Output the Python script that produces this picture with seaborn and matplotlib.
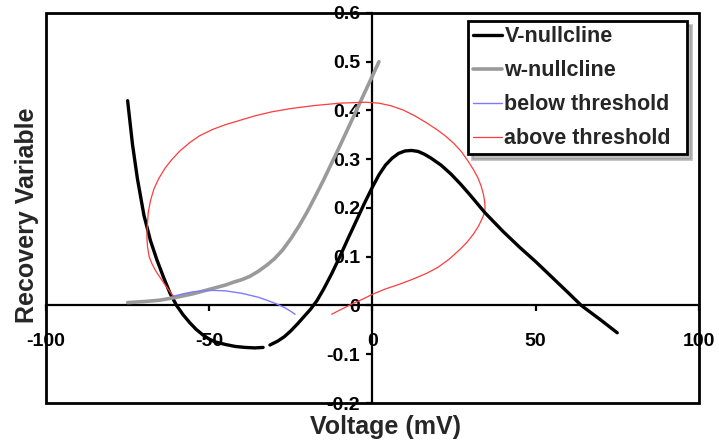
import matplotlib
matplotlib.use("Agg")
import matplotlib.pyplot as plt
import seaborn as sns
from matplotlib.patches import Rectangle

# V-nullcline (two branches, broken near -33 mV)
v_null_left_v = [-75, -73.5, -72, -70, -68, -66, -64, -62, -60, -58, -56, -54, -52, -50,
                 -48, -45, -42, -39, -36, -33.5]
v_null_left_w = [0.42, 0.33, 0.26, 0.185, 0.133, 0.093, 0.058, 0.025, 0.0, -0.019, -0.035,
                 -0.049, -0.06, -0.069, -0.075, -0.080, -0.084, -0.086, -0.087, -0.086]
v_null_right_v = [-31.4, -29, -27, -25, -23, -21, -19, -17, -15, -12.5, -10, -7.5, -5, -2.5,
                  0, 2, 4, 6, 8, 10, 12, 14, 16, 18, 21, 24, 27, 30, 34.5, 40, 45, 50, 55,
                  60, 64, 70, 75]
v_null_right_w = [-0.081, -0.073, -0.064, -0.052, -0.038, -0.023, -0.008, 0.01, 0.033,
                  0.065, 0.1, 0.137, 0.173, 0.209, 0.243, 0.268, 0.288, 0.302, 0.312, 0.317,
                  0.318, 0.316, 0.31, 0.302, 0.288, 0.27, 0.249, 0.226, 0.19, 0.152, 0.12,
                  0.09, 0.058, 0.026, 0.0, -0.03, -0.056]

# w-nullcline
w_null_v = [-75, -70, -65, -60, -55, -50, -45, -42.5, -40, -37.5, -35, -32.5, -30, -27.5,
            -25, -22.5, -20, -17.5, -15, -12.5, -10, -7.5, -5, -2.5, 0, 2]
w_null_w = [0.006, 0.008, 0.011, 0.017, 0.024, 0.033, 0.042, 0.048, 0.053, 0.06, 0.07,
            0.082, 0.096, 0.114, 0.137, 0.163, 0.192, 0.224, 0.257, 0.292, 0.327, 0.363,
            0.399, 0.435, 0.471, 0.5]

# sub-threshold trajectory
below_v = [-23.7, -25, -27, -29.3, -32, -35, -37.5, -40, -45, -49, -52, -55, -58, -61]
below_w = [-0.018, -0.012, -0.004, 0.003, 0.010, 0.017, 0.021, 0.025, 0.030, 0.031,
           0.030, 0.028, 0.024, 0.019]

# supra-threshold trajectory (action potential loop)
above_v = [-12.5, -9, -6, -3, 0, 4, 8, 12, 16.6, 20, 23.5, 26.8, 29, 31, 32.5, 33.6, 34.3,
           34.5, 34.4, 34.0, 33.3, 32.3, 31, 29.3, 27.2, 25, 22.5, 19.7, 16.5, 13, 9.4, 5.5,
           2, -2, -10, -18, -25, -31, -36, -40.5, -45, -49, -53, -56, -59, -61.5, -63.5,
           -65.5, -67, -68, -68.7, -69.0, -69.1, -68.9, -68.4, -67.5, -66.3, -65, -63.5,
           -62.2, -61]
above_w = [-0.018, -0.006, 0.004, 0.013, 0.023, 0.034, 0.043, 0.053, 0.066, 0.078, 0.095,
           0.115, 0.13, 0.147, 0.163, 0.178, 0.19, 0.2, 0.212, 0.228, 0.245, 0.262, 0.278,
           0.296, 0.316, 0.332, 0.347, 0.361, 0.375, 0.389, 0.401, 0.41, 0.415, 0.417,
           0.415, 0.41, 0.404, 0.397, 0.389, 0.38, 0.371, 0.361, 0.348, 0.334, 0.317,
           0.299, 0.282, 0.26, 0.238, 0.215, 0.19, 0.16, 0.14, 0.12, 0.10, 0.085, 0.07,
           0.057, 0.042, 0.03, 0.019]

x_ticks = [-100, -50, 0, 50, 100]
y_ticks = [-0.2, -0.1, 0, 0.1, 0.2, 0.3, 0.4, 0.5, 0.6]
y_tick_labels = ["-0.2", "-0.1", "0", "0.1", "0.2", "0.3", "0.4", "0.5", "0.6"]

sns.set_style("white")
plt.rcParams["font.family"] = ["Liberation Sans", "DejaVu Sans"]
plt.rcParams["font.weight"] = "bold"
plt.rcParams["axes.unicode_minus"] = False

fig = plt.figure(figsize=(7.19, 4.46), dpi=100)
ax = fig.add_axes([0.064, 0.0964, 0.908, 0.8745])

sns.lineplot(x=v_null_left_v, y=v_null_left_w, sort=False, estimator=None,
             color="black", lw=2.4, label="V-nullcline", ax=ax)
sns.lineplot(x=w_null_v, y=w_null_w, sort=False, estimator=None,
             color="#9a9a9a", lw=2.6, label="w-nullcline", ax=ax)
sns.lineplot(x=below_v, y=below_w, sort=False, estimator=None,
             color="#7b7bff", lw=1.0, label="below threshold", ax=ax)
sns.lineplot(x=above_v, y=above_w, sort=False, estimator=None,
             color="#ff3b3b", lw=0.9, label="above threshold", ax=ax)
sns.lineplot(x=v_null_right_v, y=v_null_right_w, sort=False, estimator=None,
             color="black", lw=2.4, label="_nolegend_", ax=ax)

ax.set_xlim(-100, 100)
ax.set_ylim(-0.2, 0.6)

# axes crossing at the origin, with an outer frame
ax.spines["top"].set_visible(False)
ax.spines["right"].set_visible(False)
for side in ["left", "bottom"]:
    ax.spines[side].set_position(("data", 0))
    ax.spines[side].set_linewidth(1.6)
    ax.spines[side].set_color("black")
    ax.spines[side].set_zorder(1)
ax.add_patch(Rectangle((0, 0), 1, 1, transform=ax.transAxes, fill=False,
                       lw=2.0, ec="black", clip_on=False, zorder=1))

ax.set_xticks(x_ticks)
ax.set_xticklabels([str(t) for t in x_ticks])
ax.set_yticks(y_ticks)
ax.set_yticklabels(y_tick_labels)
ax.tick_params(axis="x", direction="out", length=4, width=1.6, pad=16,
               labelsize=14, bottom=True, top=False, colors="black")
ax.tick_params(axis="y", direction="out", length=4, width=1.6, pad=5,
               labelsize=14, left=True, right=False, colors="black")

ax.set_xlabel("Voltage (mV)", fontsize=18, fontweight="bold")
ax.set_ylabel("Recovery Variable", fontsize=18, fontweight="bold")
ax.xaxis.set_label_coords(0.52, -0.03)
ax.yaxis.set_label_coords(-0.011, 0.482)

leg = ax.legend(loc="upper left", bbox_to_anchor=(0.6462, 0.5, 0.3354, 0.4795),
                mode="expand", borderaxespad=0, frameon=True, fancybox=False,
                shadow={"ox": 3, "oy": -3, "color": "0.5", "alpha": 0.5},
                fontsize=15.5, handlelength=1.35, handletextpad=0.1,
                labelspacing=0.6, borderpad=0.25)
leg.get_frame().set_edgecolor("black")
leg.get_frame().set_linewidth(2.0)
leg.get_frame().set_alpha(1)

fig.savefig("out.png", dpi=100)
